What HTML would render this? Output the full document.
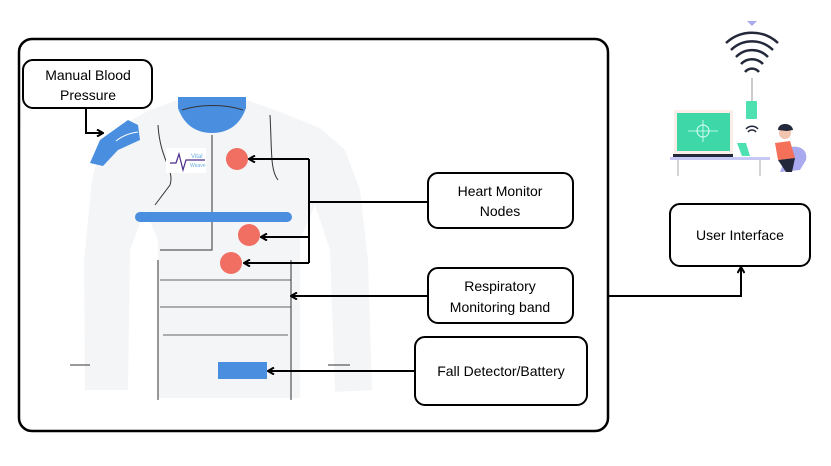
<!DOCTYPE html>
<html><head><meta charset="utf-8"><style>
html,body{margin:0;padding:0;background:#fff;}
svg{display:block;font-family:"Liberation Sans",sans-serif;}
</style></head><body>
<svg width="831" height="466" viewBox="0 0 831 466" xmlns="http://www.w3.org/2000/svg">
<defs>
<marker id="ah" markerWidth="8" markerHeight="8" refX="7" refY="4" orient="auto" markerUnits="userSpaceOnUse">
<path d="M1,0.5 L7,4 L1,7.5" fill="none" stroke="#000" stroke-width="2"/>
</marker>
</defs>
<rect x="0" y="0" width="831" height="466" fill="#fff"/>
<rect x="19" y="39" width="589" height="392" rx="13" fill="#fff" stroke="#000" stroke-width="2.5"/>

<g>
<path d="M150,110 L178,100 L246,100 L275,110 L320,128 L345,150 L360,190 L368,260 L372,390 L335,392 L330,250 L315,205 L300,240 L300,398 L158,398 L158,240 L145,210 L130,250 L128,390 L85,390 L84,260 L92,180 L100,150 L122,125 Z" fill="#f4f5f7"/>
<path d="M158,125 C160,160 175,170 170,185 L155,205" fill="none" stroke="#333" stroke-width="1"/>
<path d="M158,400 L158,260 M291,400 L291,260 M270,115 C272,150 270,170 278,180 M212,135 L212,250 L160,250" fill="none" stroke="#333" stroke-width="1"/>
<path d="M160,280 L291,280 M160,307 L291,307 M163,335 L288,335" fill="none" stroke="#333" stroke-width="0.8"/>
<path d="M70,365 L90,365 M328,365 L350,365" stroke="#333" stroke-width="1"/>
<path d="M178,97 L246,97 L246,108 C240,125 228,133 212,133 C196,133 184,125 178,108 Z" fill="#4a8ee0"/>
<path d="M182,110 C200,104 225,104 243,110" fill="none" stroke="#333" stroke-width="1"/>
<path d="M90,163 L100,140 L128,120 L138,125 L140,140 L118,150 L103,166 Z" fill="#4a8ee0"/>
<path d="M116,141 C122,136 130,133 138,132" fill="none" stroke="#fff" stroke-width="1"/>
<rect x="166" y="148" width="40" height="25" fill="#fff"/>
<path d="M170,163 L176,163 L179,154 L183,170 L186,160 L205,160" fill="none" stroke="#4b2a8a" stroke-width="1.2"/>
<text x="191" y="158" font-size="6" fill="#6ab0e0">Vital</text>
<text x="190" y="167" font-size="5" fill="#6ab0e0">Weave</text>
<rect x="135" y="212" width="157" height="10" rx="5" fill="#4a8ee0"/>
<circle cx="237" cy="159" r="11" fill="#f06e62"/>
<circle cx="249" cy="235" r="11" fill="#f06e62"/>
<circle cx="231" cy="263" r="11" fill="#f06e62"/>
<rect x="218" y="362" width="49" height="17" fill="#4a8ee0"/>
</g>

<g fill="none" stroke="#000" stroke-width="2">
<path d="M86,108 L86,133 L103,133" marker-end="url(#ah)"/>
<path d="M309,159 L249,159" marker-end="url(#ah)"/>
<path d="M309,159 L309,263"/>
<path d="M309,237 L261,237" marker-end="url(#ah)"/>
<path d="M309,263 L244,263" marker-end="url(#ah)"/>
<path d="M309,202 L428,202"/>
<path d="M428,296 L291,296" marker-end="url(#ah)"/>
<path d="M415,371 L268,371" marker-end="url(#ah)"/>
<path d="M608,296 L741,296 L741,267" marker-end="url(#ah)"/>
</g>

<g fill="#fff" stroke="#000" stroke-width="2">
<rect x="23" y="60" width="129" height="48" rx="10"/>
<rect x="428" y="173" width="145" height="55" rx="10"/>
<rect x="428" y="268" width="145" height="55" rx="10"/>
<rect x="415" y="337" width="172" height="68" rx="10"/>
<rect x="670" y="204" width="140" height="62" rx="10"/>
</g>
<g font-size="14" fill="#000" text-anchor="middle">
<text x="88" y="80">Manual Blood</text>
<text x="88" y="100">Pressure</text>
<text x="500" y="196">Heart Monitor</text>
<text x="500" y="216">Nodes</text>
<text x="500" y="291">Respiratory</text>
<text x="500" y="312">Monitoring band</text>
<text x="501" y="376">Fall Detector/Battery</text>
<text x="740" y="240">User Interface</text>
</g>

<g>
<path d="M747,21 L757,21 L752,26 Z" fill="#a9a9f0"/>
<g fill="none" stroke="#23283a" stroke-width="2.5">
<path d="M726,43 A38,38 0 0 1 778,43"/>
<path d="M731,50 A30,30 0 0 1 773,50"/>
<path d="M736,57 A22,22 0 0 1 768,57"/>
<path d="M741,64 A15,15 0 0 1 763,64"/>
<path d="M745,72 A9,9 0 0 1 759,72"/>
</g>
<line x1="752" y1="78" x2="752" y2="101" stroke="#999" stroke-width="1"/>
<rect x="746" y="101" width="11" height="18" rx="1" fill="#4de0b0"/>
<g fill="none" stroke="#23283a" stroke-width="1.5">
<path d="M746,129 A8,8 0 0 1 758,129"/>
<path d="M748,132 A5,5 0 0 1 756,132"/>
</g>
<rect x="674" y="110" width="59" height="44" fill="#fbeee8"/>
<rect x="677" y="113" width="53" height="38" fill="#3ed8a8"/>
<circle cx="703" cy="131" r="6" fill="none" stroke="#e0fff5" stroke-width="1"/>
<path d="M688,131 L718,131 M703,120 L703,142" stroke="#e0fff5" stroke-width="0.8"/>
<rect x="673" y="154" width="60" height="3" fill="#23283a"/>
<path d="M737,143 L746,143 L750,156 L742,156 Z" fill="#4de0b0"/>
<rect x="670" y="157" width="100" height="3" fill="#c8c8f5"/>
<path d="M678,160 L678,176 M760,160 L760,176" stroke="#aaa" stroke-width="1"/>
<path d="M790,147 C800,145 808,150 806,160 L800,170 L780,172 Z" fill="#a9a9f0"/>
<circle cx="785" cy="133" r="6" fill="#f3c5b0"/>
<path d="M778,130 C778,122 792,122 793,130 L787,131 Z" fill="#23283a"/>
<path d="M775,143 L790,141 L795,158 L778,160 Z" fill="#f47058"/>
<path d="M778,160 L795,158 L792,172 L786,172 Z" fill="#23283a"/>
</g>
</svg>
</body></html>
